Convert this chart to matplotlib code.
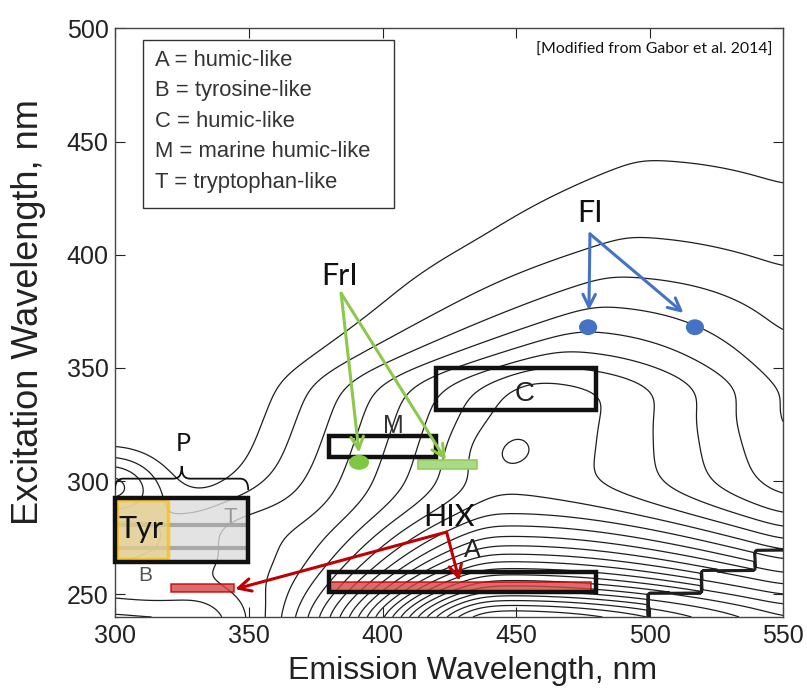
import numpy as np
import matplotlib.pyplot as plt
from matplotlib.patches import Rectangle, Ellipse, PathPatch
from matplotlib.path import Path

# excitation / emission grid (nm)
em = np.arange(300, 551, 1.0)
ex = np.arange(240, 501, 1.0)

# humic ridge: emission centre of the arches at each excitation
ridge_ex = [240, 300, 345, 366, 377, 390, 407, 441, 500]
ridge_em = [436, 440, 455, 472, 479, 484, 491, 496, 500]
ramp_left = 106     # linear rise on the blue side of the ridge
# red side of the ridge: centre and gaussian width against excitation
right_ex = [240, 290, 300, 330, 345, 390, 441, 500]
right_em = [448, 448, 448, 452, 455, 484, 496, 500]
right_width = [105, 92, 88, 76, 76, 82, 85, 88]
# humic intensity along the ridge (contour-interval units)
humic_ex = [240, 285, 300, 315, 330, 340, 345, 350, 357, 366, 377, 390, 407, 441, 500]
humic_val = [7.6, 7.8, 8.2, 8.45, 8.6, 8.6, 8.0, 7.0, 6.0, 5.0, 4.0, 3.0, 2.0, 1.0, 0.28]

# peak A stack near the bottom
a_ex = [240, 250, 260, 270, 280, 290, 300, 320, 500]
a_val = [18.5, 13.0, 8.7, 5.6, 3.3, 1.4, 0.3, 0.05, 0.01]
a_centre = 445
a_width = [42, 150]

# smaller peaks: scatter corner, T, B and the closed blob next to M
peak_em = [298, 335, 310, 446]
peak_ex = [298, 278, 255, 313]
peak_sem = [12, 22, 28, 13]
peak_sex = [9, 12, 8, 8]
peak_amp = [5.0, 2.5, 3.0, 0.8]

# second-order scatter staircase
step_em = [500, 520, 540]
step_ex = [251, 261, 270]

levels = np.arange(1, 32)


def smooth(z, sigma):
    k = np.arange(-3 * sigma, 3 * sigma + 1)
    k = np.exp(-0.5 * (k / sigma) ** 2)
    k /= k.sum()
    p = len(k) // 2
    zp = np.pad(z, p, mode='edge')
    zp = np.apply_along_axis(lambda r: np.convolve(r, k, mode='same'), 0, zp)
    zp = np.apply_along_axis(lambda r: np.convolve(r, k, mode='same'), 1, zp)
    return zp[p:-p, p:-p]


EM, EX = np.meshgrid(em, ex)
centre = np.interp(EX, ridge_ex, ridge_em)
centre_r = np.interp(EX, right_ex, right_em)
wr = np.interp(EX, right_ex, right_width)
shape = np.where(EM < centre,
                 np.clip((EM - centre + ramp_left) / ramp_left, 0, 1),
                 np.exp(-0.5 * (np.clip(EM - centre_r, 0, None) / wr) ** 2))
F = np.exp(np.interp(EX, humic_ex, np.log(humic_val))) * shape
wa = np.where(EM < a_centre, a_width[0], a_width[1])
F += np.exp(np.interp(EX, a_ex, np.log(a_val))) * np.exp(-0.5 * ((EM - a_centre) / wa) ** 2)
for pm, px, sm, sx, amp in zip(peak_em, peak_ex, peak_sem, peak_sex, peak_amp):
    F += amp * np.exp(-0.5 * (((EM - pm) / sm) ** 2 + ((EX - px) / sx) ** 2))
F = smooth(F, 5)
cut = np.zeros_like(F, dtype=bool)
for se, sx in zip(step_em, step_ex):
    cut |= (EM >= se) & (EX < sx)
F = np.where(cut, F * 0.6, F)

# annotation data
fi_em, fi_ex = [477, 517], [368, 368]
fri_dot = (391.2, 308.3)
fri_rect = (413.4, 305.2, 435.5, 309.2)
hix_rects = [(380, 251, 478, 255.5), (320.7, 251.1, 344.4, 254.5)]
boxes = {'M': (380, 310.5, 420, 320), 'C': (420, 331.5, 480, 350),
         'A': (380, 251, 480, 260), 'P': (300, 264.5, 349.5, 292.5)}
tyr_box = (300.5, 265.5, 319.5, 291.5)
legend_lines = ['A = humic-like', 'B = tyrosine-like', 'C = humic-like',
                'M = marine humic-like', 'T = tryptophan-like']

sans = ['Liberation Sans', 'DejaVu Sans']
calib = ['Lato', 'DejaVu Sans']

fig = plt.figure(figsize=(8.07, 6.94), dpi=100)
ax = fig.add_axes([0.1431, 0.1110, 0.8272, 0.8481])
ax.contour(em, ex, F, levels=levels, colors='#1e1e1e', linewidths=0.9, zorder=1)
ax.set_xlim(300, 550)
ax.set_ylim(240, 500)
ax.set_xticks([300, 350, 400, 450, 500, 550])
ax.set_yticks([250, 300, 350, 400, 450, 500])
ax.tick_params(direction='in', length=7, width=0.8, top=True, right=True,
               labelsize=18, colors='#222222', pad=5)
for lab in ax.get_xticklabels() + ax.get_yticklabels():
    lab.set_family(sans)
for s in ax.spines.values():
    s.set_color('#444444')
    s.set_linewidth(1.0)
fig.text(0.5855, 0.0216, 'Emission Wavelength, nm', ha='center', va='baseline',
         fontsize=23, family=sans, color='#222222')
fig.text(29 / 807, 1 - 312 / 694, 'Excitation Wavelength, nm', ha='center', va='center',
         rotation=90, fontsize=26, family=sans, color='#222222')

# legend box
ax.add_patch(Rectangle((310.3, 420.8), 94, 74.1, fill=False, ec='#333333', lw=1.0, zorder=5))
for txt, y in zip(legend_lines, [483.6, 470.2, 456.6, 443, 429.4]):
    ax.text(314.9, y, txt, fontsize=15.8, family=sans, color='#333333', va='baseline', zorder=5)
ax.text(546.1, 488.7, '[Modified from Gabor et al. 2014]', fontsize=11.4, family=calib,
        ha='right', va='baseline', color='#111111', zorder=5)

# P region overlay
x0, y0, x1, y1 = boxes['P']
ax.add_patch(Rectangle((x0, y0), x1 - x0, y1 - y0, fc='#dcdcdc', ec='none', alpha=0.8,
                       zorder=2, clip_on=False))
for y in [280.5, 270.5]:
    ax.plot([300, 349], [y, y], color='#a8a8a8', lw=3, zorder=2.5, solid_capstyle='butt')
ax.text(342.9, 281.7, 'T', fontsize=16, family=sans, color='#999999', ha='center',
        va='baseline', zorder=2.5)
x0, y0, x1, y1 = tyr_box
ax.add_patch(Rectangle((x0, y0), x1 - x0, y1 - y0, fc='#e8cf8a', ec='#ffc000', lw=2.5,
                       alpha=0.75, zorder=3, clip_on=False))

# HIX rectangles
for x0, y0, x1, y1 in hix_rects:
    ax.add_patch(Rectangle((x0, y0), x1 - x0, y1 - y0, fc='#d64545', ec='#c00000', lw=1.2,
                           alpha=0.8, zorder=3))
# FrI rectangle and dot
x0, y0, x1, y1 = fri_rect
ax.add_patch(Rectangle((x0, y0), x1 - x0, y1 - y0, fc='#a9d98a', ec='#92d050', lw=1.2, zorder=3))
ax.add_patch(Ellipse(fri_dot, 7.5, 6.6, fc='#7dc840', ec='none', zorder=6))
# FI dots
for e, x in zip(fi_em, fi_ex):
    ax.add_patch(Ellipse((e, x), 6.8, 7.0, fc='#4472c4', ec='none', zorder=6))

# black region boxes
for name, (x0, y0, x1, y1) in boxes.items():
    ax.add_patch(Rectangle((x0, y0), x1 - x0, y1 - y0, fill=False, ec='#111111', lw=3.2,
                           zorder=4, clip_on=False))

# brace over P
verts = [(299.8, 296.1), (299.8, 299.5), (300.8, 301.1), (303, 301.1), (321.5, 301.1),
         (323.8, 301.1), (324.8, 302.5), (324.8, 306.7), (324.8, 302.5), (325.8, 301.1),
         (328.1, 301.1), (346.5, 301.1), (348.7, 301.1), (349.7, 299.5), (349.7, 296.1)]
codes = [Path.MOVETO, Path.CURVE4, Path.CURVE4, Path.CURVE4, Path.LINETO,
         Path.CURVE4, Path.CURVE4, Path.CURVE4, Path.CURVE4, Path.CURVE4, Path.CURVE4,
         Path.LINETO, Path.CURVE4, Path.CURVE4, Path.CURVE4]
ax.add_patch(PathPatch(Path(verts, codes), fill=False, ec='#111111', lw=1.3, zorder=5))

# region letters
ax.text(453.4, 335.2, 'C', fontsize=20, family=sans, ha='center', va='baseline', color='#222222', zorder=5)
ax.text(404, 321.4, 'M', fontsize=18, family=sans, ha='center', va='baseline', color='#333333', zorder=5)
ax.text(433.6, 266.3, 'A', fontsize=18, family=sans, ha='center', va='baseline', color='#222222', zorder=5)
ax.text(311, 255.9, 'B', fontsize=15, family=sans, ha='center', va='baseline', color='#555555', zorder=5)
ax.text(325.4, 313.3, 'P', fontsize=18, family=calib, ha='center', va='baseline', color='#111111', zorder=5)
ax.text(309.5, 275.1, 'Tyr', fontsize=22, family=calib, ha='center', va='baseline', color='#111111', zorder=6)

# index labels and arrows
ax.text(477.9, 414.3, 'FI', fontsize=22, family=calib, ha='center', va='baseline', color='#111111', zorder=6)
ax.text(384.1, 386.8, 'FrI', fontsize=22, family=calib, ha='center', va='baseline', color='#111111', zorder=6)
ax.text(424.8, 280.2, 'HIX', fontsize=22, family=calib, ha='center', va='baseline', color='#111111', zorder=6)

arrows = [((477.7, 409.2), [(477.3, 375.5), (512.7, 374.3)], '#4472c4'),
          ((384.5, 383.0), [(391.2, 312.6), (423.7, 309.3)], '#8cc84b'),
          ((424.0, 277.5), [(428.8, 256.0), (344.8, 252.3)], '#c00000')]
for origin, tips, col in arrows:
    for tip in tips:
        ax.annotate('', xy=tip, xytext=origin, zorder=7,
                    arrowprops=dict(arrowstyle='->,head_length=0.6,head_width=0.3',
                                    color=col, lw=2.2, mutation_scale=15,
                                    shrinkA=0, shrinkB=0))

fig.savefig('out.png', dpi=100)
